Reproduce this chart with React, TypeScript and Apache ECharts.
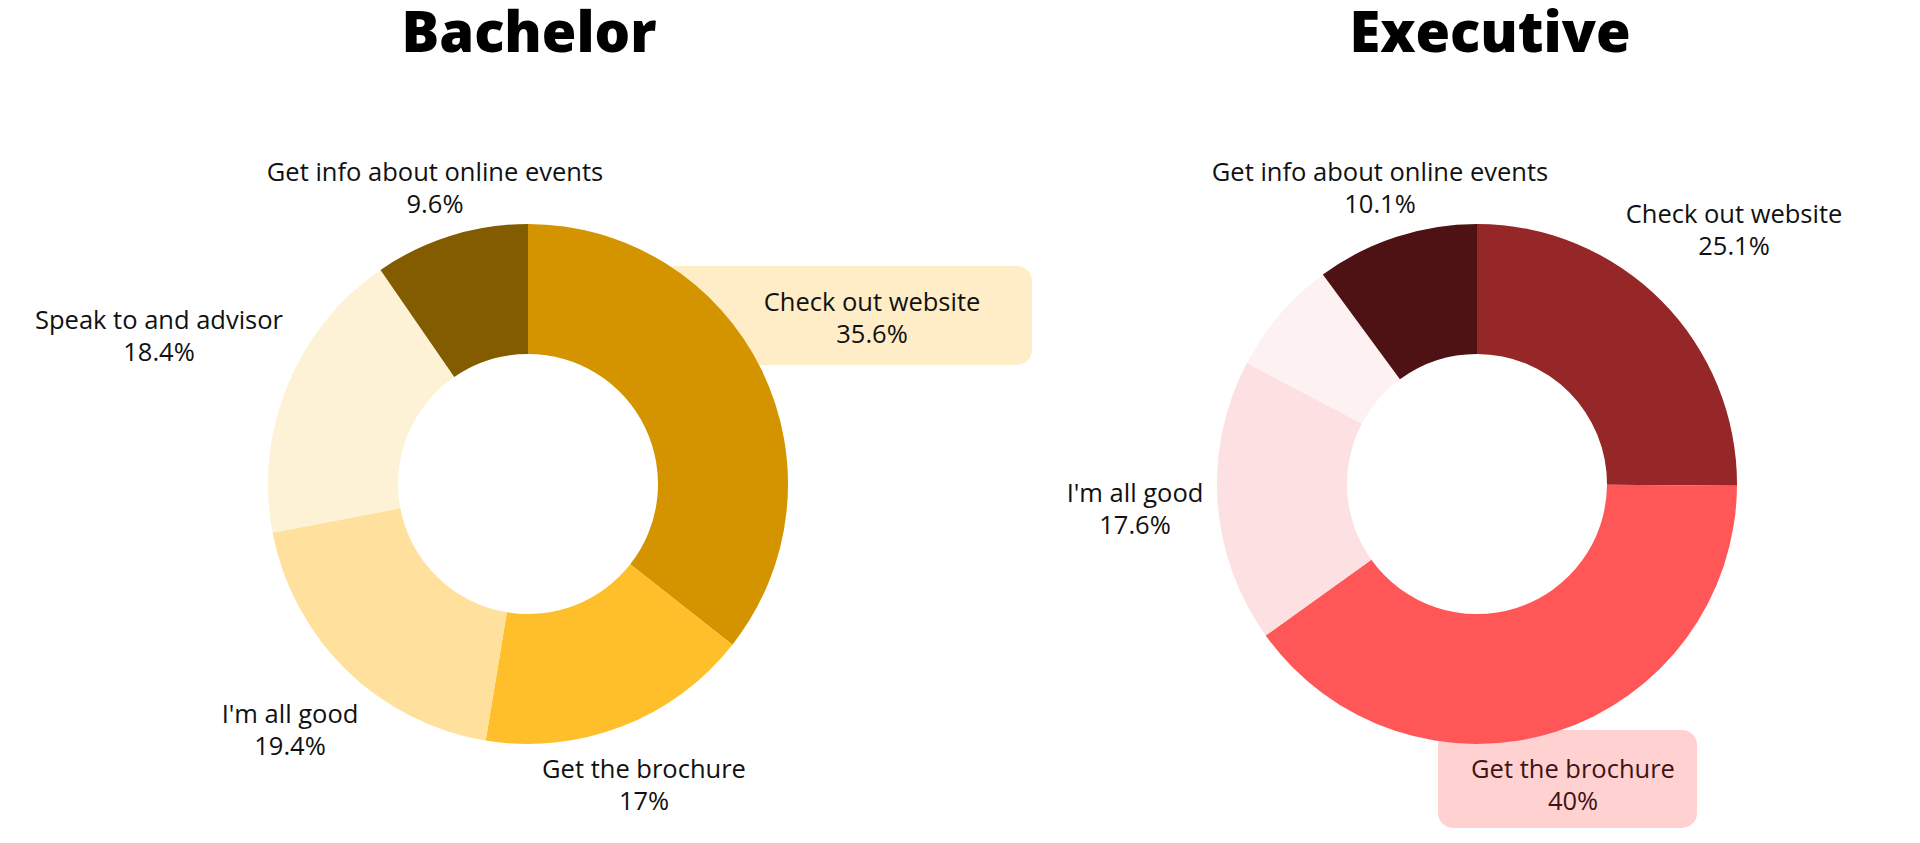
import React, { useEffect, useRef } from "react";
import * as echarts from "echarts";

// answers shown in both donuts, clockwise from 12 o'clock
const categories = [
  "Check out website",
  "Get the brochure",
  "I'm all good",
  "Speak to and advisor",
  "Get info about online events",
];
const bachelorValues = [35.6, 17, 19.4, 18.4, 9.6];
const executiveValues = [25.1, 40, 17.6, 7.2, 10.1];
const chartTitles = ["Bachelor", "Executive"];

// styling
const bachelorColors = ["#d49400", "#ffbf2b", "#ffe09c", "#fef2d6", "#845c00"];
const executiveColors = ["#962729", "#ff5757", "#fde0e1", "#fef1f1", "#4f1214"];
const centers = [
  [528, 484],
  [1477, 484],
];
const titleX = [529, 1490];
// label centres, relative to the donut centre
const labelOffsets = [
  [
    [344, -167],
    [116, 300],
    [-238, 245],
    [-369, -149],
    [-93, -297],
  ],
  [
    [257, -255],
    [96, 300],
    [-342, 24],
    [0, 0],
    [-97, -297],
  ],
];

const makeSeries = (idx: number, values: number[], colors: string[], highlight: number, hlText: string, hidden: number[]) => ({
  type: "pie",
  center: centers[idx],
  radius: [130, 260],
  startAngle: 90,
  clockwise: true,
  silent: true,
  label: {
    show: true,
    position: "outside",
    overflow: "none",
    formatter: (p: any) => `${p.name}\n${p.value}%`,
    fontFamily: "Open Sans",
    fontSize: 25.5,
    lineHeight: 32,
    color: "#111111",
    align: "center",
  },
  labelLine: { show: false },
  labelLayout: (params: any) => {
    const off = labelOffsets[idx][params.dataIndex];
    return {
      x: centers[idx][0] + off[0],
      y: centers[idx][1] + off[1],
      align: "center",
      verticalAlign: "middle",
    };
  },
  data: categories.map((name, i) => ({
    name,
    value: values[i],
    itemStyle: { color: colors[i] },
    label: hidden.includes(i) ? { show: false } : i === highlight ? { color: hlText } : {},
  })),
});

const App = () => {
  const chartRef = useRef<HTMLDivElement | null>(null);

  useEffect(() => {
    if (!chartRef.current) return;
    const chart = echarts.init(chartRef.current, undefined, { renderer: "svg" });

    const options = {
      animation: false,
      backgroundColor: "#ffffff",
      graphic: [
        // highlight boxes sit behind the donuts
        {
          type: "rect",
          z: 0,
          shape: { x: 660, y: 266, width: 372, height: 99, r: 15 },
          style: { fill: "#ffedc8" },
        },
        {
          type: "rect",
          z: 0,
          shape: { x: 1438, y: 730, width: 259, height: 98, r: 15 },
          style: { fill: "#ffd1d1" },
        },
        ...chartTitles.map((t, i) => ({
          type: "text",
          z: 5,
          x: titleX[i],
          y: 30,
          style: {
            text: t,
            fontFamily: "Open Sans",
            fontWeight: 800,
            fontSize: 56,
            fill: "#000000",
            align: "center",
            verticalAlign: "middle",
          },
        })),
      ],
      series: [
        makeSeries(0, bachelorValues, bachelorColors, 0, "#111111", []),
        makeSeries(1, executiveValues, executiveColors, 1, "#3f1414", [3]),
      ],
    };

    chart.setOption(options);
    return () => {
      chart.dispose();
    };
  }, []);

  return <div ref={chartRef} style={{ position: "fixed", left: 0, top: 0, width: 1920, height: 843 }}></div>;
};

export default App;
